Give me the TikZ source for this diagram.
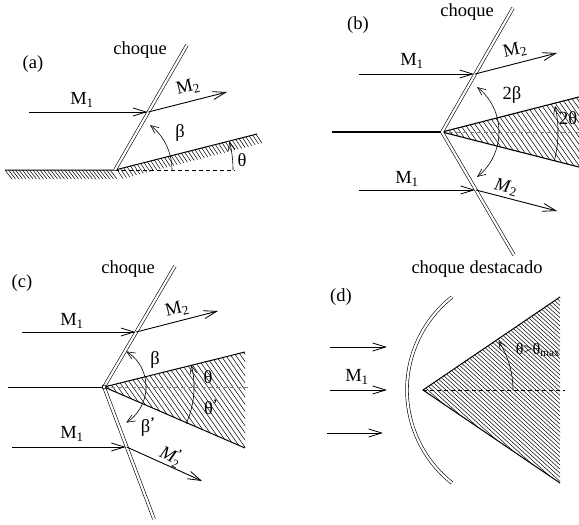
\documentclass[tikz,border=0pt]{standalone}
\usepackage{fontspec}
\setmainfont{Liberation Serif}
\usetikzlibrary{arrows.meta}
\newcommand{\subsup}[3]{$\mbox{#1}_{\mbox{\fontsize{12}{12}\selectfont #2}}^{\mbox{\fontsize{12}{12}\selectfont #3}}$}
\begin{document}
\begin{tikzpicture}[x=1pt,y=-1pt,
  lbl/.style={font=\fontsize{18.5}{20}\selectfont, inner sep=0pt},
  small/.style={font=\fontsize{16}{18}\selectfont, inner sep=0pt},
  flow/.style={line width=0.9pt, -{Straight Barb[length=13pt,width=8pt,line width=0.8pt]}},
  shock/.style={double, double distance=2.2pt, line width=0.6pt},
  wall/.style={line width=1pt},
  ang/.style={line width=0.6pt},
  >={Straight Barb[length=8pt,width=7pt,line width=0.6pt]},
  hatch/.style={line width=0.5pt},
  centerline/.style={dash pattern=on 4pt off 3pt, line width=0.6pt}
]
\clip (0,0) rectangle (579,525);

% ---------------- (a) ----------------
\node[lbl] (alab) at (33,64) {(a)};
\node[lbl] (ach) at (140,50) {choque};
\coordinate (aC) at (115,170);
\coordinate (aS) at (187,45);
\coordinate (aG) at (5,170);
\coordinate (aR) at (257,134);
\coordinate (aD) at (235,170);
\coordinate (aIn) at (29,112);
\coordinate (aP) at (148.4,112);
\coordinate (aOut) at (227,92);
\foreach \x in {5,8.5,...,113} \draw[hatch] (\x,170) -- ++(7,9);
\foreach \t in {2,5.5,...,146} \draw[hatch] ({115+\t*0.9693},{170-\t*0.2457}) -- ++(6,9);
\draw[wall] (aG) -- (aC) -- (aR);
\draw[centerline] (aC) -- (aD);
\draw[shock] (aC) -- (aS);
\draw[flow, shorten >=1pt] (aIn) -- (aP);
\draw[flow] (aP) -- (aOut);
\node[lbl] (am1) at (82,100) {M\textsubscript{1}};
\node[lbl, rotate=14] (am2) at (188,87) {M\textsubscript{2}};
\draw[ang, ->] (aC) ++(57,0) arc[start angle=0,end angle=-52,radius=57];
\draw[ang, ->] (aC) ++(118,0) arc[start angle=0,end angle=-14,radius=118];
\node[lbl] (abeta) at (180,133) {β};
\node[lbl] (ath) at (242,160) {θ};

% ---------------- (b) ----------------
\node[lbl] (blab) at (358,25) {(b)};
\node[lbl] (bch) at (467,12) {choque};
\coordinate (bA) at (442,132);
\coordinate (bS1) at (513,8);
\coordinate (bS2) at (514,255);
\coordinate (bL) at (332,132);
\coordinate (bW1) at (600,91.6);
\coordinate (bW2) at (600,172.4);
\begin{scope}
  \clip (bA) -- (bW1) -- (bW2) -- cycle;
  \foreach \x in {364,369,...,610} \draw[hatch] (\x,80) -- ++(70,100);
\end{scope}
\draw[centerline, gray] (bA) -- (600,132);
\draw[line width=1.1pt] (bW1) -- (bA) -- (bW2);
\draw[line width=1.6pt] (bL) -- (bA);
\draw[shock] (bS1) -- (bA) -- (bS2);
\coordinate (bIn1) at (359,74);
\coordinate (bP1) at (475,74);
\coordinate (bOut1) at (557,53);
\coordinate (bIn2) at (359,190);
\coordinate (bP2) at (476,190);
\coordinate (bOut2) at (557,211);
\draw[flow, shorten >=1pt] (bIn1) -- (bP1);
\draw[flow] (bP1) -- (bOut1);
\draw[flow, shorten >=1pt] (bIn2) -- (bP2);
\draw[flow] (bP2) -- (bOut2);
\node[lbl] (bm1a) at (412,61) {M\textsubscript{1}};
\node[lbl, rotate=13] (bm2a) at (515,50) {M\textsubscript{2}};
\node[lbl] (bm1b) at (407,179) {M\textsubscript{1}};
\node[lbl, rotate=-13] (bm2b) at (506,187) {\textit{M}\textsubscript{2}};
\draw[ang, <->] (bA) ++(-52:57) arc[start angle=-52,end angle=52,radius=57];
\draw[ang, <-] (bA) ++(-13:116) arc[start angle=-13,end angle=14,radius=116];
\node[lbl] (b2b) at (512,95) {2β};
\node[lbl, anchor=west] (b2t) at (559,118) {2θ};

% ---------------- (c) ----------------
\node[lbl] (clab) at (22,283) {(c)};
\node[lbl] (cch) at (128,269) {choque};
\coordinate (cA) at (104,387);
\coordinate (cS1) at (175,266);
\coordinate (cS2) at (154,519);
\coordinate (cW1) at (245,352);
\coordinate (cW2) at (245,448);
\begin{scope}
  \clip (cA) -- (cW1) -- (cW2) -- cycle;
  \foreach \x in {20,25,...,260} \draw[hatch] (\x,340) -- ++(84,120);
\end{scope}
\draw[centerline, gray] (cA) -- (250,387);
\draw[line width=1pt] (cW1) -- (cA) -- (cW2);
\draw[line width=0.8pt] (8,387) -- (cA);
\draw[shock] (cS1) -- (cA) -- (cS2);
\draw[line width=0.6pt] (cA) circle[radius=2];
\coordinate (cIn1) at (22,332);
\coordinate (cP1) at (136.3,332);
\coordinate (cOut1) at (218,311);
\coordinate (cIn2) at (12,447);
\coordinate (cP2) at (126.7,447);
\coordinate (cOut2) at (202,481);
\draw[flow, shorten >=1pt] (cIn1) -- (cP1);
\draw[flow] (cP1) -- (cOut1);
\draw[flow, shorten >=1pt] (cIn2) -- (cP2);
\draw[flow] (cP2) -- (cOut2);
\node[lbl] (cm1a) at (72,321) {M\textsubscript{1}};
\node[lbl, rotate=14] (cm2a) at (177,309) {M\textsubscript{2}};
\node[lbl] (cm1b) at (72,434) {M\textsubscript{1}};
\node[lbl, rotate=-25] (cm2b) at (171,456) {\subsup{\itshape M}{2}{\textbf{'}}};
\draw[ang, <->] (cA) ++(-58:42) arc[start angle=-58,end angle=58,radius=42];
\draw[ang, <-] (cA) ++(-14:90) arc[start angle=-14,end angle=24,radius=90];
\node[lbl] (cb) at (155,360) {β};
\node[lbl] (cbp) at (148,427) {β\textsuperscript{\textbf{'}}};
\node[lbl] (ct) at (208,377) {θ};
\node[lbl] (ctp) at (211,407) {θ\textsuperscript{\textbf{'}}};

% ---------------- (d) ----------------
\node[lbl] (dch) at (477,269) {choque destacado};
\node[lbl] (dlab) at (341,297) {(d)};
\coordinate (dC) at (525.6,390);
\coordinate (dA) at (423,390);
\coordinate (dW1) at (560,297);
\coordinate (dW2) at (560,483);
\begin{scope}
  \clip (dA) -- (dW1) -- (dW2) -- cycle;
  \foreach \x in {300,304.5,...,570} \draw[hatch] (\x,290) -- ++(110,100) -- ++(110,100);
\end{scope}
\draw[centerline] (dA) -- (565,390);
\draw[line width=1pt] (dW1) -- (dA) -- (dW2);
\draw[shock] (dC) ++(128.4:118.6) arc[start angle=128.4,end angle=231.6,radius=118.6];
\coordinate (dIn1) at (330,347);
\coordinate (dE1) at (387,347);
\coordinate (dIn2) at (330,390);
\coordinate (dE2) at (387,390);
\coordinate (dIn3) at (327,433);
\coordinate (dE3) at (383,433);
\draw[flow] (dIn1) -- (dE1);
\draw[flow] (dIn2) -- (dE2);
\draw[flow] (dIn3) -- (dE3);
\node[lbl] (dm1) at (357,377) {M\textsubscript{1}};
\draw[ang, <-] (dA) ++(-33:90) arc[start angle=-33,end angle=0,radius=90];
\node[small] (dth) at (538,350) {θ>θ\textsubscript{max}};
\end{tikzpicture}
\end{document}
